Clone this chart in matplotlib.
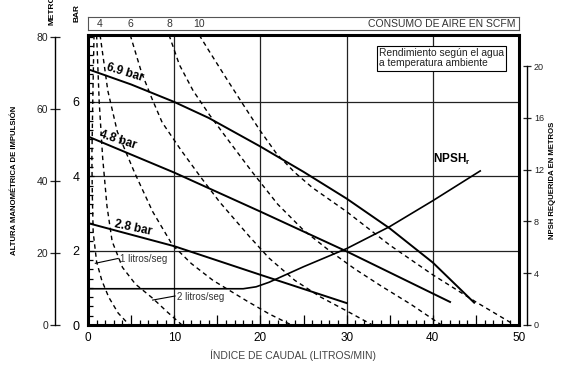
import matplotlib

matplotlib.use("Agg")
import matplotlib.pyplot as plt  # noqa: E402

plt.rcParams["font.family"] = ["Liberation Sans", "DejaVu Sans"]
plt.rcParams["mathtext.fontset"] = "custom"
plt.rcParams["mathtext.bf"] = "Liberation Sans:bold"
plt.rcParams["mathtext.rm"] = "Liberation Sans"

W, H = 566, 366

# presion de aire: caudal (l/min) -> altura (bar)
flow_69 = [0, 5, 10, 14, 20, 25, 30, 35, 40, 44.8]
head_69 = [6.88, 6.47, 6.0, 5.57, 4.8, 4.12, 3.4, 2.6, 1.68, 0.6]
flow_48 = [0, 10, 20, 30, 36, 42]
head_48 = [5.07, 4.1, 3.05, 1.98, 1.3, 0.62]
flow_28 = [0, 10, 20, 30]
head_28 = [2.74, 2.12, 1.35, 0.59]

# consumo de aire (curvas de trazos)
air_1ls_x = [0.7, 0.55, 0.45, 0.5, 0.6, 1.0, 1.6, 2.4, 3.5, 4.8]
air_1ls_y = [7.8, 6.0, 4.5, 3.5, 2.5, 1.7, 1.2, 0.75, 0.32, 0.0]
air_2ls_x = [1.0, 1.3, 1.7, 2.2, 2.8, 4.0, 5.5, 7.5, 9.2, 10.9]
air_2ls_y = [7.8, 6.0, 4.5, 3.2, 2.25, 1.55, 1.1, 0.72, 0.35, 0.0]
air_4_x = [1.4, 2.3, 3.4, 5.4, 7.5, 9.8, 12.0, 14.5, 18.4, 21.0, 23.6]
air_4_y = [7.8, 6.3, 5.2, 4.1, 3.05, 2.15, 1.65, 1.2, 0.65, 0.3, 0.0]
air_6_x = [4.9, 6.2, 7.4, 8.6, 10.8, 13.0, 15.3, 18.8, 21.0, 24.0, 27.0, 30.0, 33.0]
air_6_y = [7.8, 6.8, 6.1, 5.45, 4.7, 4.0, 3.3, 2.36, 1.8, 1.2, 0.75, 0.38, 0.0]
air_8_x = [9.4, 10.6, 12.2, 14.1, 16.5, 19.1, 22.0, 25.0, 28.0, 31.0, 34.0, 37.5, 41.0]
air_8_y = [7.8, 7.0, 6.3, 5.65, 4.9, 4.1, 3.25, 2.55, 2.0, 1.5, 1.05, 0.55, 0.0]
air_10_x = [12.9, 14.1, 16.0, 17.8, 19.9, 21.9, 24.0, 26.0, 30.0, 35.0, 40.0, 45.0, 49.5]
air_10_y = [7.8, 7.35, 6.65, 6.0, 5.25, 4.6, 4.1, 3.7, 3.05, 2.15, 1.35, 0.62, 0.0]
scfm_labels = ["4", "6", "8", "10"]

# NPSH requerida (m)
npsh_flow = [0, 18.0, 19.5, 21.0, 22.0, 25.0, 30.0, 35.0, 40.0, 45.5]
npsh_m = [2.8, 2.8, 2.95, 3.3, 3.6, 4.5, 5.9, 7.6, 9.6, 11.9]

fig = plt.figure(figsize=(W / 100, H / 100), dpi=100, facecolor="white")
ax = fig.add_axes([88 / W, 41 / H, 431 / W, 290 / H])
ax.set_xlim(0, 50)
ax.set_ylim(0, 7.8)

for gx in (10, 20, 30, 40):
    ax.axvline(gx, color="#222222", lw=0.9, zorder=1)
for gy in (2, 4, 6):
    ax.axhline(gy, color="#222222", lw=0.9, zorder=1)

for fx, hy in ((flow_69, head_69), (flow_48, head_48), (flow_28, head_28)):
    ax.plot(fx, hy, color="black", lw=1.4, zorder=3)

dash = (0, (3.2, 2.6))
air = [(air_1ls_x, air_1ls_y), (air_2ls_x, air_2ls_y), (air_4_x, air_4_y),
       (air_6_x, air_6_y), (air_8_x, air_8_y), (air_10_x, air_10_y)]
for cx, cy in air:
    ax.plot(cx, cy, color="black", lw=1.0, linestyle=dash, zorder=2)

ax.set_xticks(range(0, 51, 5))
ax.set_xticklabels([str(v) if v % 10 == 0 else "" for v in range(0, 51, 5)])
ax.set_xticks(range(0, 51), minor=True)
ax.set_yticks([0, 2, 4, 6])
ax.set_yticks([v * 0.25 for v in range(32)], minor=True)
ax.tick_params(axis="x", which="major", direction="in", length=7, width=0.9, labelsize=8.5, pad=5)
ax.tick_params(axis="x", which="minor", direction="in", length=3.5, width=0.9)
ax.tick_params(axis="y", which="major", direction="in", length=4, width=0.9, labelsize=9, pad=6)
ax.tick_params(axis="y", which="minor", direction="in", length=3.5, width=0.9)
for s in ax.spines.values():
    s.set_linewidth(2.2)

ax.text(4.3, 6.8, "6.9 bar", rotation=-17, ha="center", va="center", fontsize=8.5, fontweight="bold")
ax.text(3.5, 4.97, "4.8 bar", rotation=-18, ha="center", va="center", fontsize=8.5, fontweight="bold")
ax.text(5.2, 2.6, "2.8 bar", rotation=-12, ha="center", va="center", fontsize=8.5, fontweight="bold")
ax.plot([0.85, 3.5], [1.66, 1.79], color="black", lw=0.8)
ax.text(3.7, 1.77, "1 litros/seg", ha="left", va="center", fontsize=7, color="#333333")
ax.plot([7.5, 10.1], [0.67, 0.78], color="black", lw=0.8)
ax.text(10.3, 0.76, "2 litros/seg", ha="left", va="center", fontsize=7, color="#333333")
ax.text(42.2, 4.45, r"$\mathbf{NPSH}_\mathbf{r}$", ha="center", va="center", fontsize=8.5)
ax.text(0.675, 0.955, "Rendimiento según el agua\na temperatura ambiente", transform=ax.transAxes,
        ha="left", va="top", fontsize=7.4, color="#222222", linespacing=1.05,
        bbox=dict(boxstyle="square,pad=0.2", fc="white", ec="black", lw=0.8))

# escala en metros (izquierda)
ax_m = ax.twinx()
ax_m.set_ylim(0, 80.6)
for s in ax_m.spines.values():
    s.set_visible(False)
ax_m.spines["left"].set_visible(True)
ax_m.spines["left"].set_position(("outward", 33 * 0.72))
ax_m.spines["left"].set_bounds(0, 80)
ax_m.spines["left"].set_linewidth(1.0)
ax_m.yaxis.set_ticks_position("left")
ax_m.set_yticks([0, 20, 40, 60, 80])
ax_m.tick_params(axis="y", direction="inout", length=7, width=0.9, labelsize=7.5, pad=1.5, colors="#222222")

# NPSH (derecha)
ax_n = ax.twinx()
ax_n.set_ylim(0, 22.4)
for s in ax_n.spines.values():
    s.set_visible(False)
ax_n.spines["right"].set_visible(True)
ax_n.spines["right"].set_position(("outward", 8 * 0.72))
ax_n.spines["right"].set_bounds(0, 20)
ax_n.spines["right"].set_linewidth(1.0)
ax_n.set_yticks([0, 4, 8, 12, 16, 20])
ax_n.tick_params(axis="y", direction="inout", length=6, width=0.9, labelsize=6.5, pad=2, colors="#222222")
ax_n.plot(npsh_flow, npsh_m, color="black", lw=1.2, zorder=3)

# caja superior: consumo de aire
ax_t = fig.add_axes([88 / W, (H - 30) / H, 431 / W, 13 / H])
ax_t.set_xlim(0, 50)
ax_t.set_ylim(0, 1)
ax_t.set_xticks([])
ax_t.set_yticks([])
for s in ax_t.spines.values():
    s.set_linewidth(0.8)
    s.set_color("#555555")
for lab, cx in zip(scfm_labels, (air_4_x, air_6_x, air_8_x, air_10_x)):
    ax_t.text(cx[0], 0.45, lab, ha="center", va="center", fontsize=7.5, color="#333333")
ax_t.text(49.6, 0.45, "CONSUMO DE AIRE EN SCFM", ha="right", va="center", fontsize=7.5, color="#333333")

fig.text(77 / W, 1 - 22 / H, "BAR", rotation=90, ha="center", va="bottom", fontsize=6, fontweight="bold")
fig.text(51.5 / W, 1 - 25 / H, "METROS", rotation=90, ha="center", va="bottom", fontsize=6, fontweight="bold")
fig.text(15 / W, 1 - 180 / H, "ALTURA MANOMÉTRICA DE IMPULSIÓN", rotation=90, ha="center", va="center",
         fontsize=5.6, fontweight="bold")
fig.text(553 / W, 1 - 180 / H, "NPSH REQUERIDA EN METROS", rotation=90, ha="center", va="center",
         fontsize=5.6, fontweight="bold")
fig.text(293 / W, 1 - 355 / H, "ÍNDICE DE CAUDAL (LITROS/MIN)", ha="center", va="center",
         fontsize=7.5, color="#444444")

fig.savefig("out.png", dpi=100, facecolor="white")
